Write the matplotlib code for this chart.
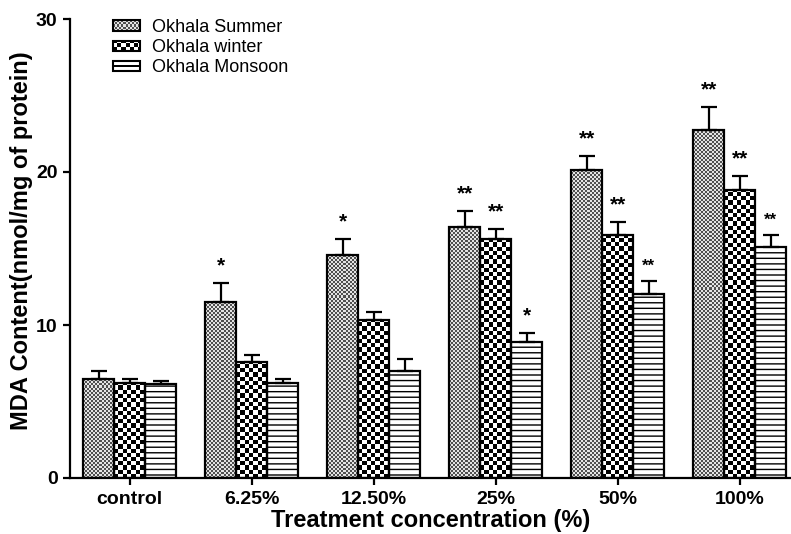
import matplotlib
matplotlib.use("Agg")
import matplotlib.pyplot as plt
from matplotlib.colors import ListedColormap
from matplotlib.patches import Rectangle
from matplotlib.legend_handler import HandlerBase
import numpy as np

groups = ["control", "6.25%", "12.50%", "25%", "50%", "100%"]
series = ["Okhala Summer", "Okhala winter", "Okhala Monsoon"]

summer = [6.5, 11.5, 14.6, 16.4, 20.1, 22.75]
summer_err = [0.5, 1.25, 1.0, 1.05, 0.95, 1.5]
winter = [6.2, 7.6, 10.3, 15.6, 15.9, 18.8]
winter_err = [0.25, 0.45, 0.55, 0.7, 0.8, 0.95]
monsoon = [6.15, 6.2, 7.0, 8.9, 12.0, 15.1]
monsoon_err = [0.2, 0.3, 0.8, 0.6, 0.85, 0.75]

summer_sig = ["", "*", "*", "**", "**", "**"]
winter_sig = ["", "", "", "**", "**", "**"]
monsoon_sig = ["", "", "", "*", "**", "**"]

plt.rcParams["font.family"] = ["Liberation Sans", "DejaVu Sans"]
plt.rcParams["hatch.linewidth"] = 1.0

fig = plt.figure(figsize=(7.91, 5.34), dpi=100)
ax = fig.add_axes([70 / 791, 56 / 534, 721 / 791, 459 / 534])

x = np.arange(len(groups))
w = 0.255
ax.set_xlim(-0.49, 5.42)
ax.set_ylim(0, 30)

data = [(summer, summer_err, summer_sig), (winter, winter_err, winter_sig),
        (monsoon, monsoon_err, monsoon_sig)]
all_bars = []
for i, (vals, errs, sig) in enumerate(data):
    pos = x + (i - 1) * w
    bars = ax.bar(pos, vals, w, color="white", edgecolor="none", zorder=1)
    ax.bar(pos, vals, w, fill=False, edgecolor="black", linewidth=1.6, zorder=3)
    ax.errorbar(pos, vals, yerr=[np.zeros(len(vals)), errs], fmt="none",
                ecolor="black", elinewidth=1.6, capsize=6, capthick=1.6, zorder=2)
    for p, v, e, s in zip(pos, vals, errs, sig):
        if s:
            fs = 15 if i < 2 or s == "*" else 12
            ax.text(p, v + e + 0.5, s, ha="center", va="bottom", fontsize=fs,
                    fontweight="bold")
    all_bars.append(bars)


def fill_checker(bars, cell_px, colors):
    # checkerboard image clipped to each bar
    cmap = ListedColormap(colors)
    for b in bars:
        x0, y0 = b.get_x(), b.get_y()
        bw, bh = b.get_width(), b.get_height()
        (px0, py0), (px1, py1) = ax.transData.transform([(x0, y0), (x0 + bw, y0 + bh)])
        nx = int(np.ceil((px1 - px0) / cell_px)) + 1
        ny = int(np.ceil((py1 - py0) / cell_px)) + 1
        grid = np.add.outer(np.arange(ny), np.arange(nx)) % 2
        x1 = x0 + nx * cell_px * bw / (px1 - px0)
        y1 = y0 + ny * cell_px * bh / (py1 - py0)
        im = ax.imshow(grid, cmap=cmap, vmin=0, vmax=1, extent=(x0, x1, y0, y1),
                       origin="lower", interpolation="nearest", aspect="auto", zorder=1.5)
        im.set_clip_path(b)


fill_checker(all_bars[0], 2, ["#505050", "#e4e4e4"])
fill_checker(all_bars[1], 4.2, ["black", "white"])
for b in all_bars[2]:
    b.set_hatch("---")
    b.set_edgecolor("black")
    b.set_linewidth(0)
ax.set_xlim(-0.49, 5.42)
ax.set_ylim(0, 30)


class PatternHandler(HandlerBase):
    def __init__(self, kind, colors=None, cell=3.0):
        super().__init__()
        self.kind = kind
        self.colors = colors
        self.cell = cell

    def create_artists(self, legend, orig_handle, xdescent, ydescent, width, height,
                       fontsize, trans):
        x0, y0 = -xdescent, -ydescent
        arts = [Rectangle((x0, y0), width, height, facecolor="white", edgecolor="none",
                          transform=trans)]
        if self.kind == "checker":
            c = self.cell
            j = 0
            yy = y0
            while yy < y0 + height - 1e-6:
                i = 0
                xx = x0
                hh = min(c, y0 + height - yy)
                while xx < x0 + width - 1e-6:
                    ww = min(c, x0 + width - xx)
                    arts.append(Rectangle((xx, yy), ww, hh, facecolor=self.colors[(i + j) % 2],
                                          edgecolor="none", transform=trans))
                    xx += c
                    i += 1
                yy += c
                j += 1
        else:
            arts.append(Rectangle((x0, y0 + height / 2 - 0.5), width, 1.0,
                                  facecolor="black", edgecolor="none", transform=trans))
        arts.append(Rectangle((x0, y0), width, height, fill=False, edgecolor="black",
                              linewidth=1.5, transform=trans))
        return arts


proxies = [Rectangle((0, 0), 1, 1) for _ in series]
handlers = {proxies[0]: PatternHandler("checker", ["#505050", "#e4e4e4"], 1.5),
            proxies[1]: PatternHandler("checker", ["black", "white"], 3.0),
            proxies[2]: PatternHandler("lines")}
ax.legend(proxies, series, handler_map=handlers, loc="upper left",
          bbox_to_anchor=(113 / 791, 1 - 19 / 534), bbox_transform=fig.transFigure,
          frameon=False, fontsize=13, labelspacing=0.18, handlelength=1.5,
          handleheight=0.5, handletextpad=0.66, borderpad=0, borderaxespad=0)

for s in ["top", "right"]:
    ax.spines[s].set_visible(False)
for s in ["left", "bottom"]:
    ax.spines[s].set_linewidth(1.6)
ax.set_yticks([0, 10, 20, 30])
ax.set_xticks(x)
ax.set_xticklabels(groups)
ax.tick_params(direction="out", length=5, width=1.6, labelsize=14, pad=4)
for lab in ax.get_xticklabels() + ax.get_yticklabels():
    lab.set_fontweight("bold")
ax.set_xlabel("Treatment concentration (%)", fontsize=17, fontweight="bold", labelpad=1)
ax.set_ylabel("MDA Content(nmol/mg of protein)", fontsize=17, fontweight="bold")
ax.yaxis.set_label_coords(-0.052, 0.516)

fig.savefig("out.png", dpi=100)
